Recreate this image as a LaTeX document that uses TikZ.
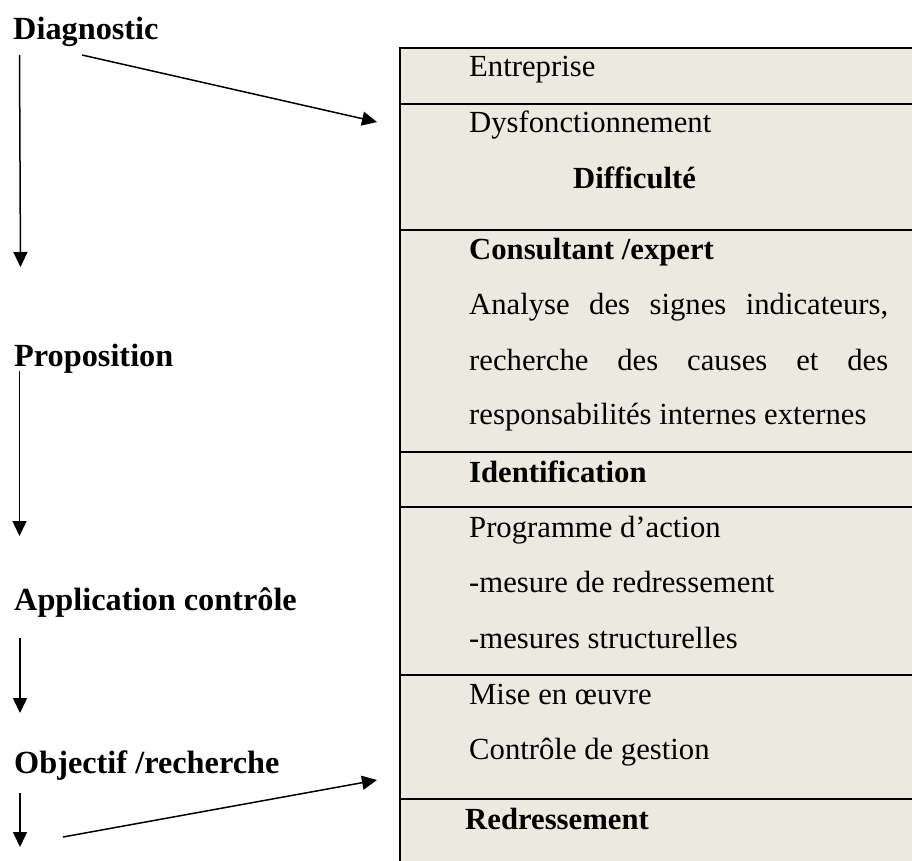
\documentclass[tikz,border=0pt]{standalone}
\usepackage{fontspec}
\setmainfont{Liberation Serif}
\usetikzlibrary{arrows.meta}
\definecolor{cellbg}{RGB}{236,233,224}
\begin{document}
\begin{tikzpicture}[x=1pt,y=-1pt,
  txt/.style={anchor=base west,inner sep=0pt,font=\fontsize{30.7}{36}\selectfont},
  btxt/.style={anchor=base west,inner sep=0pt,font=\fontsize{30.7}{36}\selectfont\bfseries},
  stage/.style={anchor=base west,inner sep=0pt,font=\fontsize{32.3}{38}\selectfont\bfseries},
  flow/.style={line width=1.5pt,-{Triangle[length=15pt,width=14pt]}},
  rule/.style={line width=2pt}]
\useasboundingbox (0,0) rectangle (912,861);

% table of stages on the right
\fill[cellbg] (400,48) rectangle (930,880);
\draw[rule] (400,880) -- (400,48) -- (930,48);
\foreach \y in {104,230,452,507,675,799}
  \draw[rule] (400,\y) -- (930,\y);

\node[txt]  (entreprise) at (469,77)  {Entreprise};
\node[txt]  (dysf)       at (469,133) {Dysfonctionnement};
\node[btxt] (diff)       at (573,189) {Difficulté};
\node[btxt] (consult)    at (469,259) {Consultant /expert};
\node[txt]  (analyse1)   at (469,314) {\makebox[419pt][s]{Analyse des signes indicateurs,}};
\node[txt]  (analyse2)   at (469,370) {\makebox[419pt][s]{recherche des causes et des}};
\node[txt]  (analyse3)   at (469,424) {responsabilités internes externes};
\node[btxt] (ident)      at (469,482) {Identification};
\node[txt]  (prog)       at (469,537) {Programme d’action};
\node[txt]  (mesure1)    at (469,592) {-mesure de redressement};
\node[txt]  (mesure2)    at (469,648) {-mesures structurelles};
\node[txt]  (mise)       at (469,704) {Mise en œuvre};
\node[txt]  (controle)   at (469,759) {Contrôle de gestion};
\node[btxt] (redress)    at (465,829) {Redressement};

% stages on the left
\node[stage] (diag)  at (13,40)  {Diagnostic};
\node[stage] (prop)  at (14,366) {Proposition};
\node[stage] (appl)  at (14,610) {Application contrôle};
\node[stage] (obj)   at (14,773) {Objectif /recherche};

% arrow end points
\coordinate (a1s) at (19.5,55);  \coordinate (a1e) at (20.5,267);
\coordinate (a2s) at (19.5,371); \coordinate (a2e) at (19.5,536);
\coordinate (a3s) at (20,638);   \coordinate (a3e) at (20,713);
\coordinate (a4s) at (20,793);   \coordinate (a4e) at (20,847);
\coordinate (t1s) at (82,55);    \coordinate (t1e) at (377,122);
\coordinate (t2s) at (63,837);   \coordinate (t2e) at (377,780);

\draw[flow] (a1s) -- (a1e);
\draw[flow] (a2s) -- (a2e);
\draw[flow] (a3s) -- (a3e);
\draw[flow] (a4s) -- (a4e);
\draw[flow] (t1s) -- (t1e);
\draw[flow] (t2s) -- (t2e);
\end{tikzpicture}
\end{document}
